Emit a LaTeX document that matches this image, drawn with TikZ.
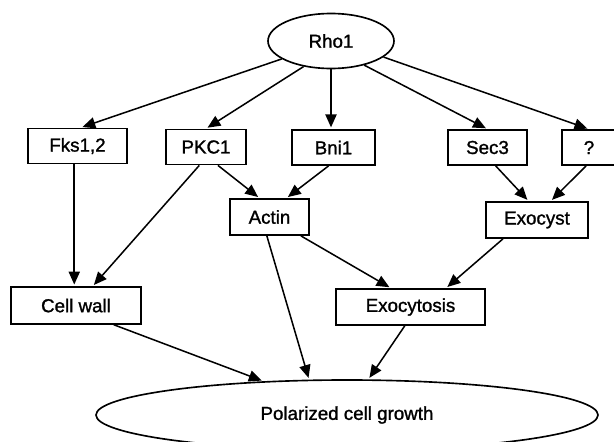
\documentclass[tikz,border=0pt]{standalone}
\usepackage{fontspec}
\setmainfont{Liberation Sans}[AutoFakeBold=1.3]
\usetikzlibrary{arrows.meta,shapes.geometric}
\begin{document}
\begin{tikzpicture}[x=0.03cm,y=-0.03cm,
  every node/.style={font=\fontsize{16}{19}\selectfont\bfseries},
  box/.style={draw,line width=1.5pt,minimum height=1.05cm,inner sep=0pt},
  oval/.style={draw,ellipse,line width=1.4pt,inner sep=0pt},
  link/.style={line width=1.3pt,-{Triangle[length=11pt,width=9.5pt]},shorten >=1.5pt}]
\useasboundingbox (0,0) rectangle (614,441);
\node[oval,minimum width=3.78cm,minimum height=1.65cm] (rho) at (331,41) {Rho1};
\node[box,minimum width=2.97cm] (fks) at (77.5,146) {Fks1,2};
\node[box,minimum width=2.4cm] (pkc) at (206,147) {PKC1};
\node[box,minimum width=2.49cm] (bni) at (333.5,147.5) {Bni1};
\node[box,minimum width=2.37cm] (sec) at (487.5,147.5) {Sec3};
\node[box,minimum width=1.62cm] (unk) at (589,147.5) {?};
\node[box,minimum width=2.37cm,minimum height=1.08cm] (actin) at (269.5,217) {Actin};
\node[box,minimum width=3.06cm,minimum height=1.08cm] (exocyst) at (537,220) {Exocyst};
\node[box,minimum width=3.9cm,minimum height=1.1cm] (cellwall) at (76,305.5) {Cell wall};
\node[box,minimum width=4.47cm,minimum height=1.08cm] (exocytosis) at (410.5,307) {Exocytosis};
\node[oval,minimum width=15.06cm,minimum height=2.1cm] (growth) at (347,415) {Polarized cell growth};
\draw[link] (rho.200) -- (fks.80);
\draw[link] (rho.223) -- (pkc.north);
\draw[link] (rho.south) -- (rho.south |- bni.north);
\draw[link] (rho.-36) -- (sec.north);
\draw[link] (rho.-17) -- (unk.north);
\draw[link] (fks.260) -- (fks.260 |- cellwall.north);
\draw[link] (pkc.250) -- (cellwall.49);
\draw[link] (pkc.-57) -- (actin.118);
\draw[link] (bni.255) -- (actin.48);
\draw[link] (sec.-66) -- (exocyst.114);
\draw[link] (unk.-99) -- (exocyst.54);
\draw[link] (actin.-31) -- (exocytosis.136);
\draw[link] (exocyst.209) -- (exocytosis.28);
\draw[link] (actin.-98) -- (growth.137);
\draw[link] (cellwall.-27) -- (growth.158);
\draw[link] (exocytosis.-107) -- (growth.59);
\end{tikzpicture}
\end{document}
